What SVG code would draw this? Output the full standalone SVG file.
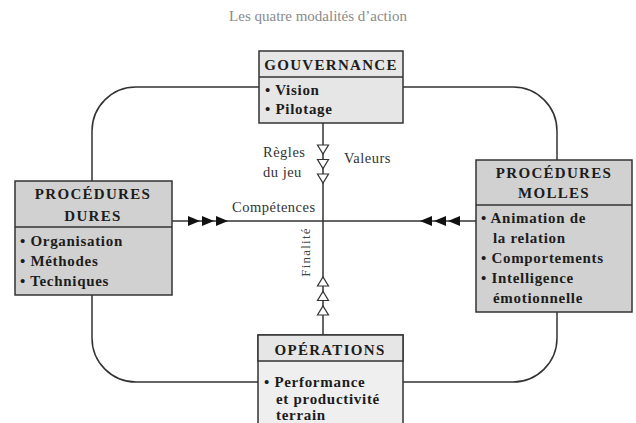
<svg xmlns="http://www.w3.org/2000/svg" width="636" height="423" viewBox="0 0 636 423">
<style>
.ln{fill:none;stroke:#333;stroke-width:1.5}
.bx{stroke:#333;stroke-width:1.5}
.light{fill:#e6e6e6}
.dark{fill:#d1d1d1}
.hd{font-family:"Liberation Serif",serif;font-weight:bold;font-size:15px;fill:#1c1c1c;letter-spacing:1.3px;text-anchor:middle}
.it{font-family:"Liberation Serif",serif;font-weight:bold;font-size:15px;fill:#1c1c1c;letter-spacing:0.7px}
.lb{font-family:"Liberation Serif",serif;font-size:14.5px;fill:#333;letter-spacing:0.5px}
.ttl{font-family:"Liberation Serif",serif;font-size:15px;fill:#8a8a8a;text-anchor:middle}
.sa{fill:#111}
.ha{fill:#fff;stroke:#333;stroke-width:1.2}
</style>
<rect width="636" height="423" fill="#fff"/>
<text class="ttl" x="318" y="21">Les quatre modalités d’action</text>
<g id="connectors">
<rect class="ln" x="92" y="87" width="465" height="295" rx="44" ry="44"/>
<line class="ln" x1="172" y1="221" x2="476" y2="221"/>
<line class="ln" x1="323" y1="123" x2="323" y2="335"/>
<polygon class="sa" points="188,216 200,221 188,226"/>
<polygon class="sa" points="202,216 214,221 202,226"/>
<polygon class="sa" points="216,216 228,221 216,226"/>
<polygon class="sa" points="432,216 420,221 432,226"/>
<polygon class="sa" points="446,216 434,221 446,226"/>
<polygon class="sa" points="460,216 448,221 460,226"/>
<polygon class="ha" points="317.5,145 328.5,145 323,154"/>
<polygon class="ha" points="317.5,159.5 328.5,159.5 323,168.5"/>
<polygon class="ha" points="317.5,174 328.5,174 323,183"/>
<polygon class="ha" points="317.5,286 328.5,286 323,277"/>
<polygon class="ha" points="317.5,300.5 328.5,300.5 323,291.5"/>
<polygon class="ha" points="317.5,315 328.5,315 323,306"/>
<text class="lb" x="263" y="157">Règles</text>
<text class="lb" x="263" y="177">du jeu</text>
<text class="lb" x="344" y="163">Valeurs</text>
<text class="lb" x="232" y="212">Compétences</text>
<text class="lb" x="0" y="0" transform="translate(310,252) rotate(-90)" style="font-size:13px;letter-spacing:1.2px;fill:#444;text-anchor:middle">Finalité</text>
</g>
<g id="gouvernance">
<rect class="bx light" x="259" y="51" width="144" height="72"/>
<line class="bx" x1="259" y1="77" x2="403" y2="77"/>
<text class="hd" x="331" y="70">GOUVERNANCE</text>
<text class="it" x="265" y="95">• Vision</text>
<text class="it" x="265" y="114">• Pilotage</text>
</g>
<g id="procedures-dures">
<rect class="bx dark" x="15" y="181" width="157" height="114"/>
<line class="bx" x1="15" y1="227" x2="172" y2="227"/>
<text class="hd" x="93" y="199">PROCÉDURES</text>
<text class="hd" x="93" y="221">DURES</text>
<text class="it" x="20" y="246">• Organisation</text>
<text class="it" x="20" y="266">• Méthodes</text>
<text class="it" x="20" y="286">• Techniques</text>
</g>
<g id="procedures-molles">
<rect class="bx dark" x="476" y="160" width="156" height="152"/>
<line class="bx" x1="476" y1="205" x2="632" y2="205"/>
<text class="hd" x="554" y="178">PROCÉDURES</text>
<text class="hd" x="554" y="198">MOLLES</text>
<text class="it" x="481" y="223">• Animation de</text>
<text class="it" x="493" y="243">la relation</text>
<text class="it" x="481" y="263">• Comportements</text>
<text class="it" x="481" y="283">• Intelligence</text>
<text class="it" x="493" y="303">émotionnelle</text>
</g>
<g id="operations">
<rect class="bx" x="258" y="335" width="145" height="100" fill="#efefef"/>
<rect class="bx light" x="258" y="335" width="145" height="26"/>
<text class="hd" x="330" y="355">OPÉRATIONS</text>
<text class="it" x="264" y="387">• Performance</text>
<text class="it" x="276" y="404">et productivité</text>
<text class="it" x="276" y="420">terrain</text>
</g>
</svg>
